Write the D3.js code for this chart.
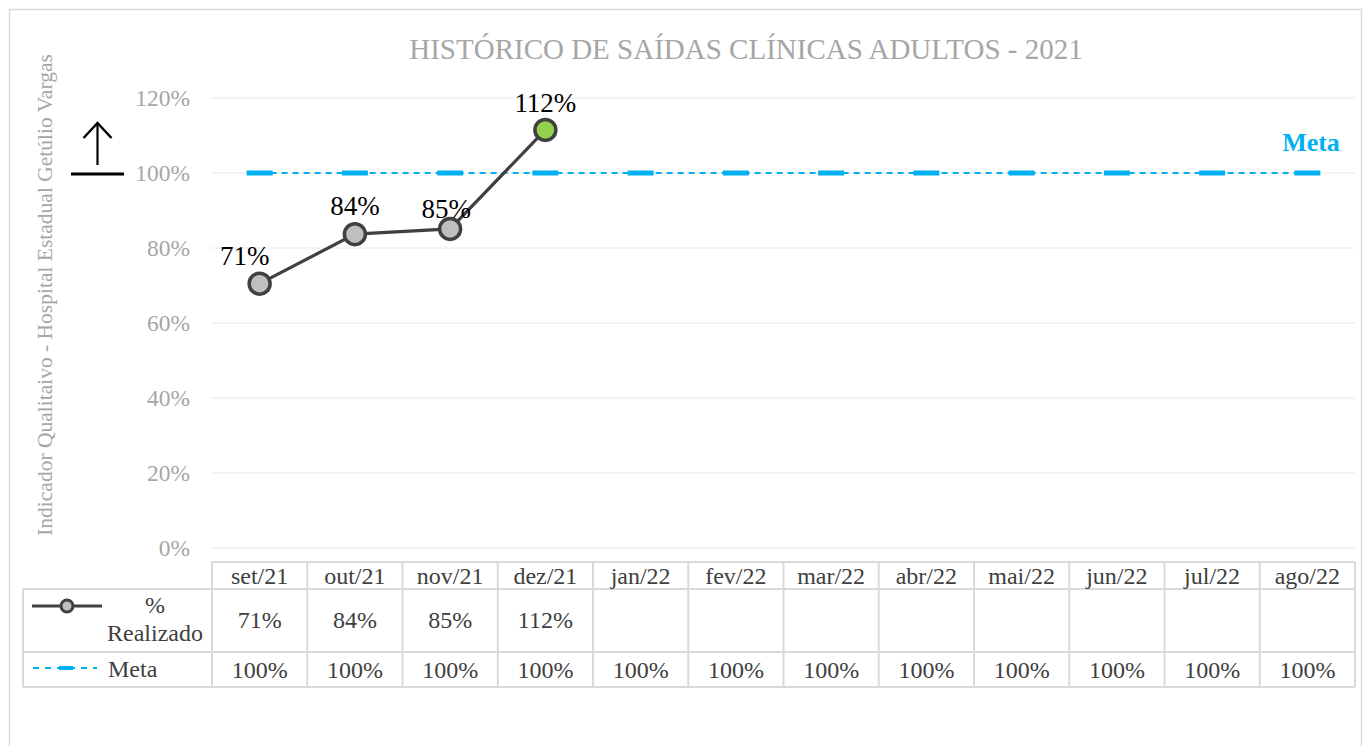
<!DOCTYPE html>
<html lang="pt">
  <head>
    <meta charset="UTF-8" />
    <title>Histórico de Saídas Clínicas Adultos - 2021</title>
    <script src="https://d3js.org/d3.v7.min.js"></script>
    <style>
      body {
        margin: 0;
        background: #fff;
      }
      svg text {
        font-family: "Liberation Serif", "Times New Roman", serif;
      }
    </style>
  </head>
  <body>
    <svg width="1365" height="746"></svg>
    <script>
      // data
      const months = ["set/21", "out/21", "nov/21", "dez/21", "jan/22", "fev/22",
        "mar/22", "abr/22", "mai/22", "jun/22", "jul/22", "ago/22"];
      const realizado = [70.5, 83.7, 85.1, 111.5];
      const meta = [100, 100, 100, 100, 100, 100, 100, 100, 100, 100, 100, 100];
      const yTicks = [0, 20, 40, 60, 80, 100, 120];

      const svg = d3.select("svg");
      const grey = "#a6a6a6";
      const dark = "#404040";
      const blue = "#00b0f0";
      const border = "#d9d9d9";

      // chart frame
      svg.append("rect")
        .attr("x", 9.5).attr("y", 9.5)
        .attr("width", 1352).attr("height", 760)
        .attr("fill", "none").attr("stroke", border).attr("stroke-width", 1.5);

      const plotLeft = 212, plotRight = 1355, plotTop = 98, plotBottom = 548;

      const x = d3.scaleBand().domain(months).range([plotLeft, plotRight]);
      const y = d3.scaleLinear().domain([0, 120]).range([plotBottom, plotTop]);
      const cx = (m) => x(m) + x.bandwidth() / 2;

      // title
      svg.append("text")
        .attr("x", 746).attr("y", 59)
        .attr("text-anchor", "middle")
        .attr("font-size", 29).attr("fill", grey)
        .text("HISTÓRICO DE SAÍDAS CLÍNICAS ADULTOS - 2021");

      // y axis title
      svg.append("text")
        .attr("transform", "translate(52,295) rotate(-90)")
        .attr("text-anchor", "middle")
        .attr("font-size", 21.5).attr("fill", grey)
        .text("Indicador Qualitaivo - Hospital Estadual Getúlio Vargas");

      // gridlines
      svg.append("g")
        .selectAll("line")
        .data(yTicks)
        .join("line")
        .attr("x1", plotLeft).attr("x2", plotRight)
        .attr("y1", (d) => y(d)).attr("y2", (d) => y(d))
        .attr("stroke", "#f0f0f0").attr("stroke-width", 1.5);

      // y axis labels
      const yAxis = svg.append("g")
        .attr("transform", `translate(${plotLeft},0)`)
        .call(d3.axisLeft(y).tickValues(yTicks).tickFormat((d) => d + "%").tickSize(0).tickPadding(22));
      yAxis.select(".domain").remove();
      yAxis.selectAll("text")
        .attr("font-family", "Liberation Serif")
        .attr("font-size", 23.5).attr("fill", grey);

      // arrow indicator (higher is better)
      svg.append("line")
        .attr("x1", 71).attr("x2", 124).attr("y1", 174).attr("y2", 174)
        .attr("stroke", "#000").attr("stroke-width", 3);
      svg.append("line")
        .attr("x1", 97.5).attr("x2", 97.5).attr("y1", 165).attr("y2", 124)
        .attr("stroke", "#000").attr("stroke-width", 2.2);
      svg.append("path")
        .attr("d", "M83.5,138 L97.5,123 L111.5,138")
        .attr("fill", "none").attr("stroke", "#000").attr("stroke-width", 2.5);

      // meta line
      svg.append("path")
        .datum(meta)
        .attr("d", d3.line().x((d, i) => cx(months[i])).y((d) => y(d)))
        .attr("fill", "none").attr("stroke", blue).attr("stroke-width", 2)
        .attr("stroke-dasharray", "6,5");
      svg.append("g")
        .selectAll("rect")
        .data(meta)
        .join("rect")
        .attr("x", (d, i) => cx(months[i]) - 13)
        .attr("y", (d) => y(d) - 2.5)
        .attr("width", 26).attr("height", 5)
        .attr("fill", blue);

      svg.append("text")
        .attr("x", 1311).attr("y", 151)
        .attr("text-anchor", "middle")
        .attr("font-size", 26).attr("font-weight", "bold").attr("fill", blue)
        .text("Meta");

      // realizado line
      svg.append("path")
        .datum(realizado)
        .attr("d", d3.line().x((d, i) => cx(months[i])).y((d) => y(d)))
        .attr("fill", "none").attr("stroke", dark).attr("stroke-width", 3.2);

      svg.append("g")
        .selectAll("circle")
        .data(realizado)
        .join("circle")
        .attr("cx", (d, i) => cx(months[i]))
        .attr("cy", (d) => y(d))
        .attr("r", 10.5)
        .attr("fill", (d) => (d >= 100 ? "#92d050" : "#bfbfbf"))
        .attr("stroke", dark).attr("stroke-width", 3.5);

      // data labels
      const labelDx = [-15, 0, -4, 0];
      const labelDy = [-19, -19, -11, -18];
      svg.append("g")
        .selectAll("text")
        .data(realizado)
        .join("text")
        .attr("x", (d, i) => cx(months[i]) + labelDx[i])
        .attr("y", (d, i) => y(d) + labelDy[i])
        .attr("text-anchor", "middle")
        .attr("font-size", 27).attr("fill", "#000")
        .text((d) => Math.round(d) + "%");

      // data table
      const tableLeft = 23;
      const rowY = [562, 589, 652, 687];
      const tg = svg.append("g");
      const lineAttrs = (sel) => sel.attr("stroke", border).attr("stroke-width", 2);

      // horizontal lines
      tg.append("line").attr("x1", plotLeft).attr("x2", plotRight).attr("y1", rowY[0]).attr("y2", rowY[0]).call(lineAttrs);
      [1, 2, 3].forEach((r) => {
        tg.append("line").attr("x1", tableLeft).attr("x2", plotRight).attr("y1", rowY[r]).attr("y2", rowY[r]).call(lineAttrs);
      });
      // vertical lines
      tg.append("line").attr("x1", tableLeft).attr("x2", tableLeft).attr("y1", rowY[1]).attr("y2", rowY[3]).call(lineAttrs);
      months.concat(["end"]).forEach((m, i) => {
        const xx = i < months.length ? x(m) : plotRight;
        tg.append("line").attr("x1", xx).attr("x2", xx).attr("y1", rowY[0]).attr("y2", rowY[3]).call(lineAttrs);
      });

      const cellText = (sel) => sel.attr("text-anchor", "middle").attr("font-size", 24).attr("fill", dark);

      tg.selectAll("text.month")
        .data(months)
        .join("text")
        .attr("class", "month")
        .attr("x", (d) => cx(d)).attr("y", 584)
        .call(cellText)
        .text((d) => d);

      tg.selectAll("text.real")
        .data(realizado)
        .join("text")
        .attr("class", "real")
        .attr("x", (d, i) => cx(months[i])).attr("y", 628)
        .call(cellText)
        .text((d) => Math.round(d) + "%");

      tg.selectAll("text.meta")
        .data(meta)
        .join("text")
        .attr("class", "meta")
        .attr("x", (d, i) => cx(months[i])).attr("y", 678)
        .call(cellText)
        .text((d) => d + "%");

      // legend keys
      tg.append("line")
        .attr("x1", 32).attr("x2", 102).attr("y1", 606).attr("y2", 606)
        .attr("stroke", dark).attr("stroke-width", 3);
      tg.append("circle")
        .attr("cx", 67).attr("cy", 606).attr("r", 6)
        .attr("fill", "#bfbfbf").attr("stroke", dark).attr("stroke-width", 3);
      tg.append("text").attr("x", 155).attr("y", 613).call(cellText).text("%");
      tg.append("text").attr("x", 155).attr("y", 641).call(cellText).text("Realizado");

      tg.append("line")
        .attr("x1", 33).attr("x2", 97).attr("y1", 668).attr("y2", 668)
        .attr("stroke", blue).attr("stroke-width", 2).attr("stroke-dasharray", "6,6");
      tg.append("rect")
        .attr("x", 59).attr("y", 666).attr("width", 14).attr("height", 4)
        .attr("fill", blue);
      tg.append("text").attr("x", 108).attr("y", 677)
        .attr("font-size", 24).attr("fill", dark).text("Meta");
    </script>
  </body>
</html>
